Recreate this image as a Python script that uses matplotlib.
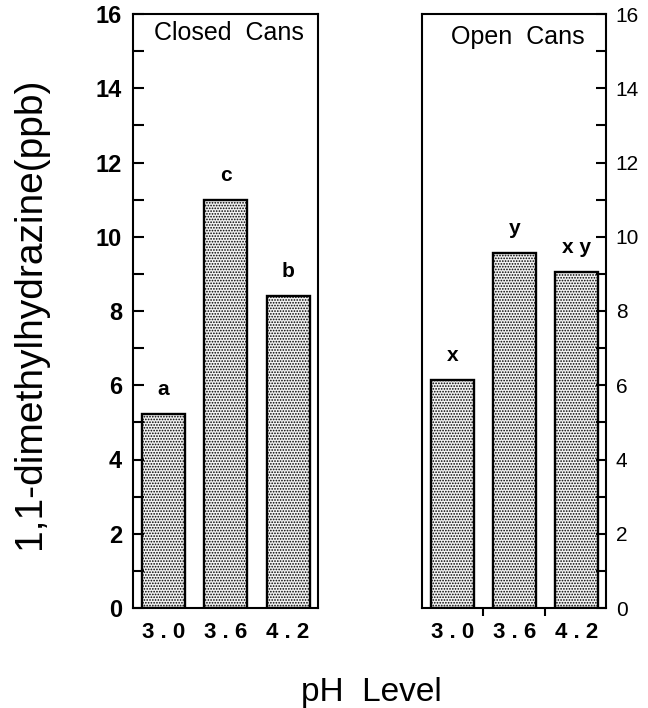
import matplotlib
matplotlib.use("Agg")
import matplotlib.pyplot as plt
import numpy as np

plt.rcParams['font.family'] = ['Liberation Sans', 'DejaVu Sans']
plt.rcParams['hatch.linewidth'] = 0.8
plt.rcParams['hatch.color'] = '#505050'

ph_levels = ["3.0", "3.6", "4.2"]
tick_labels = ["3 . 0", "3 . 6", "4 . 2"]
closed_values = [5.22, 11.0, 8.4]
open_values = [6.15, 9.57, 9.05]
closed_letters = ["a", "c", "b"]
open_letters = ["x", "y", "x y"]
y_ticks = [0, 2, 4, 6, 8, 10, 12, 14, 16]

fig = plt.figure(figsize=(6.48, 7.08), dpi=100)
ax1 = fig.add_axes([133/648, 100/708, 185/648, 594/708])
ax2 = fig.add_axes([422/648, 100/708, 184/648, 594/708])

x = np.arange(len(ph_levels))
for ax, vals, letters in [(ax1, closed_values, closed_letters), (ax2, open_values, open_letters)]:
    ax.bar(x, vals, width=0.69, facecolor='#f2f2f2', edgecolor='black',
           linewidth=1.7, hatch='......')
    for xi, v, lab in zip(x, vals, letters):
        ax.text(xi, v + 0.4, lab, ha='center', va='bottom', fontsize=15,
                fontweight='bold')
    ax.set_ylim(0, 16)
    ax.set_xlim(-0.49, 2.48)
    ax.set_xticks(x)
    ax.set_xticklabels(tick_labels, fontsize=16, fontweight='bold')
    ax.tick_params(axis='x', length=0, pad=10)
    ax.set_yticks(y_ticks)
    ax.set_yticks(np.arange(1, 16, 2), minor=True)
    for s in ax.spines.values():
        s.set_linewidth(1.5)

# left axis
ax1.tick_params(axis='y', which='both', direction='in', length=8, width=1.5,
                labelsize=17, pad=8)
for t in ax1.get_yticklabels():
    t.set_fontweight('bold')
ax1.text(0.52, 0.968, "Closed  Cans", transform=ax1.transAxes, ha='center',
         va='center', fontsize=18)

# right axis
ax2.yaxis.tick_right()
ax2.tick_params(axis='y', which='both', direction='in', length=7, width=1.5,
                labelsize=15, pad=7, right=True, left=False)
ax2.set_xticks([0.5, 1.5], minor=True)
ax2.tick_params(axis='x', which='minor', direction='out', length=6, width=1.5)
ax2.text(0.52, 0.961, "Open  Cans", transform=ax2.transAxes, ha='center',
         va='center', fontsize=18)

fig.text(30/648, 1 - 313/708, "1,1-dimethylhydrazine(ppb)", rotation=90,
         ha='center', va='center', fontsize=28)
fig.text(371/648, 1 - 693/708, "pH  Level", ha='center', va='center',
         fontsize=24)

fig.savefig("out.png", dpi=100)
